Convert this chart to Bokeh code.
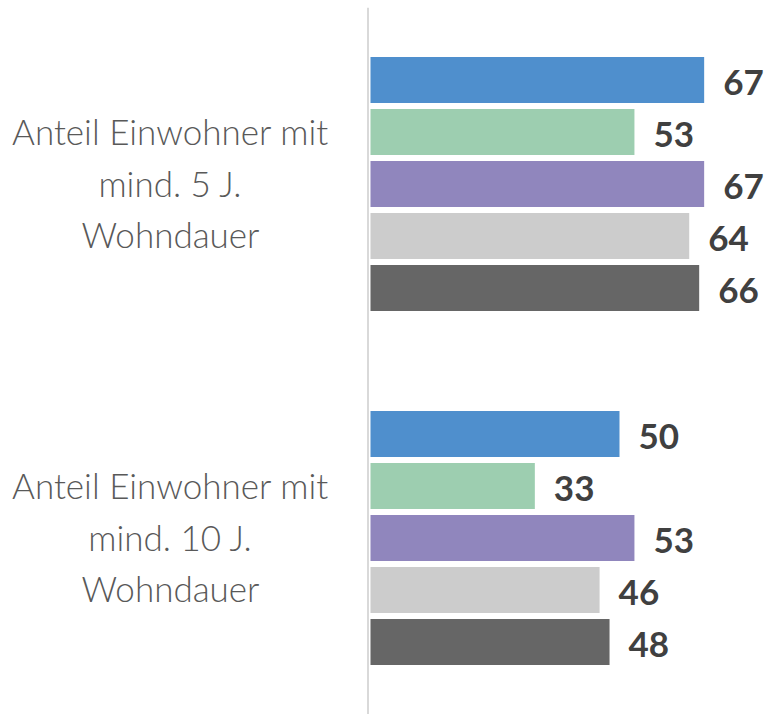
from bokeh.plotting import figure
from bokeh.models import Range1d, Label, ColumnDataSource, Span
from bokeh.core.properties import value
from bokeh.embed import file_html
from bokeh.resources import INLINE

# ---- data ----
categories = ["Anteil Einwohner mit\nmind. 5 J.\nWohndauer",
              "Anteil Einwohner mit\nmind. 10 J.\nWohndauer"]
series_1 = [67, 50]
series_2 = [53, 33]
series_3 = [67, 53]
series_4 = [64, 46]
series_5 = [66, 48]
series_colors = ["#4F8FCD", "#9DCEB0", "#9086BD", "#CCCCCC", "#666666"]

all_series = [series_1, series_2, series_3, series_4, series_5]

# ---- layout constants ----
W, H = 765, 714
top_border = 7
zero_px = 370            # pixel column of value 0
band_px = 354.0          # pixels per category band
pitch = 52.0 / band_px   # spacing of bars inside a group
bar_h = 46.0 / band_px
px_per_unit = 4.98

p = figure(width=W, height=H, output_backend="svg", toolbar_location=None,
           min_border_left=0, min_border_right=0,
           min_border_top=top_border, min_border_bottom=0)
frame_h = H - top_border
p.x_range = Range1d(-zero_px / px_per_unit, (W - zero_px) / px_per_unit)
n = len(categories)
y_end = (n - 0.5) + (183.5 - top_border) / band_px
p.y_range = Range1d(y_end - frame_h / band_px, y_end)

p.outline_line_color = None
p.background_fill_color = "white"
p.border_fill_color = "white"
p.grid.visible = False
p.xaxis.visible = False
p.yaxis.visible = False

# vertical axis line just left of the bars
p.add_layout(Span(location=-2.5 / px_per_unit, dimension="height",
                  line_color="#D9D9D9", line_width=2, level="underlay"))

cat_pos = [n - i - 0.5 for i in range(n)]
k = len(all_series)
for j, (vals, col) in enumerate(zip(all_series, series_colors)):
    off = ((k - 1) / 2 - j) * pitch
    ys = [c + off for c in cat_pos]
    src = ColumnDataSource(dict(y=ys, v=vals, t=[str(v) for v in vals]))
    p.hbar(y="y", right="v", left=0, height=bar_h, source=src,
           fill_color=col, line_color=None)
    p.text(x="v", y="y", text="t", source=src, x_offset=19, y_offset=2.5,
           text_font=value("Lato"), text_font_style="bold",
           text_font_size="35px", text_color="#404040",
           text_align="left", text_baseline="alphabetic")

line_offsets = [53.0, 1.5, -49.5]
for c, label in zip(cat_pos, categories):
    for off, line in zip(line_offsets, label.split("\n")):
        p.add_layout(Label(x=170, x_units="screen", y=c,
                           y_units="data", y_offset=off, text=line,
                           text_align="center", text_baseline="alphabetic",
                           text_font="'Lato Light', Lato",
                           text_font_size="35px", text_color="#595959"))

open("out.html", "w").write(file_html(p, INLINE))
